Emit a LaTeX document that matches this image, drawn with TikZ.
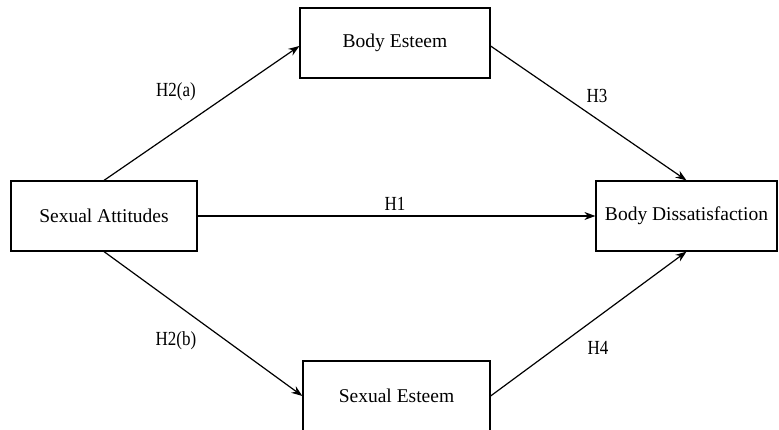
\documentclass[tikz,border=0pt]{standalone}
\usepackage{fontspec}
\setmainfont{Liberation Serif}
\usetikzlibrary{arrows.meta}
\begin{document}
\begin{tikzpicture}[x=1pt,y=1pt,
  box/.style={draw=black,line width=1.2pt,rectangle,inner sep=0pt,font=\fontsize{19.5}{22}\selectfont},
  conn/.style={draw=black,line width=1.2pt,-{Stealth[length=11pt,width=8pt]}},
  hlabel/.style={font=\fontsize{20}{22}\selectfont,inner sep=0pt,xscale=0.85}]
\useasboundingbox (0,0) rectangle (779,-430);
\node[box,minimum width=190pt,minimum height=70pt] (BE) at (395,-43) {Body Esteem};
\node[box,minimum width=186pt,minimum height=70pt] (SA) at (104,-216) {Sexual Attitudes};
\node[box,minimum width=181pt,minimum height=70pt] (BD) at (686.5,-216) {Body Dissatisfaction};
\node[box,minimum width=187pt,minimum height=72pt] (SE) at (396.5,-397) {};
\node[font=\fontsize{19.5}{22}\selectfont,inner sep=0pt] (SEt) at (396.5,-396) {Sexual Esteem};
\draw[conn] (SA.north) -- ([yshift=-3pt]BE.west);
\draw[conn] (SA.south) -- ([yshift=1pt]SE.west);
\draw[conn] (SA.east) -- (BD.west);
\draw[conn] ([yshift=-3pt]BE.east) -- (BD.north);
\draw[conn] ([yshift=1pt]SE.east) -- (BD.south);
\node[hlabel] (l2a) at (176,-92) {H2(a)};
\node[hlabel] (l2b) at (176,-341) {H2(b)};
\node[hlabel] (l1) at (395,-204) {H1};
\node[hlabel] (l3) at (597,-96) {H3};
\node[hlabel] (l4) at (598,-348) {H4};
\end{tikzpicture}
\end{document}
